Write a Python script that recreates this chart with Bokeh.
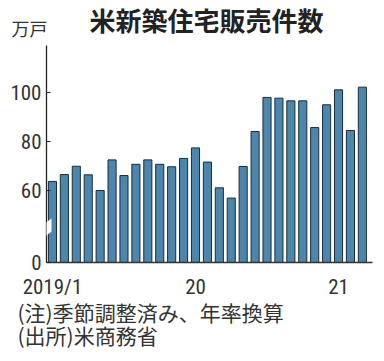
from bokeh.plotting import figure
from bokeh.models import Range1d, FixedTicker, Label, PolyAnnotation, Title
from bokeh.layouts import column
from bokeh.embed import file_html
from bokeh.resources import INLINE

months = ["2019/1","2019/2","2019/3","2019/4","2019/5","2019/6","2019/7","2019/8","2019/9",
          "2019/10","2019/11","2019/12","2020/1","2020/2","2020/3","2020/4","2020/5","2020/6",
          "2020/7","2020/8","2020/9","2020/10","2020/11","2020/12","2021/1","2021/2","2021/3"]
sales = [63.7, 66.5, 69.9, 66.4, 60.0, 72.5, 66.1, 70.7, 72.5, 70.7, 69.7, 73.1, 77.4,
         71.6, 61.1, 56.9, 69.8, 84.1, 98.0, 97.7, 96.6, 96.6, 85.7, 95.0, 101.1, 84.5, 102.2]
x_ticks = [0, 12, 24]
x_tick_labels = ["2019/1", "20", "21"]
y_ticks = [60, 80, 100]
notes = ["(注)季節調整済み、年率換算", "(出所)米商務省"]

BASE = 30.6  # display position of the broken-axis zero
NUM_FONT = "'Roboto Condensed', 'DejaVu Sans Condensed', 'Liberation Sans Narrow', Roboto, sans-serif"
JP_FONT = "Noto Sans CJK JP"
W = 384

# header
HEAD_H = 40
head = figure(width=W, height=HEAD_H, output_backend="svg", toolbar_location=None,
              x_range=Range1d(0, W), y_range=Range1d(HEAD_H, 0), title=None,
              x_axis_type=None, y_axis_type=None, frame_align=False,
              min_border=0, min_border_left=0, min_border_right=0,
              min_border_top=0, min_border_bottom=0)
head.grid.visible = False
head.outline_line_color = None
head.add_layout(Label(x=206, y=19, text="米新築住宅販売件数", text_align="center",
                      text_baseline="middle", text_font=JP_FONT, text_font_style="bold",
                      text_font_size="26px", text_color="#222222"))
head.add_layout(Label(x=11, y=27, text="万戸", text_align="left",
                      text_baseline="middle", text_font=JP_FONT,
                      text_font_size="18px", text_color="#333333"))

# main chart (notes are titles below it)
MAIN_H = 361 - HEAD_H
p = figure(width=W, height=MAIN_H, output_backend="svg", toolbar_location=None, title=None,
           x_range=Range1d(-0.5, 26.85), y_range=Range1d(BASE, 119.2), frame_align=False,
           min_border_left=46, min_border_top=5, min_border_right=12,
           min_border_bottom=MAIN_H - 5 - 217)
p.background_fill_color = "white"
p.border_fill_color = "white"
p.outline_line_color = None
p.xgrid.visible = False
p.ygrid.visible = False

idx = list(range(len(months)))
p.vbar(x=idx, top=sales, bottom=BASE, width=0.68,
       fill_color="#4d86ac", line_color="#1c2b3a", line_width=1)

yax = p.yaxis[0]
yax.ticker = FixedTicker(ticks=[BASE] + y_ticks)
yax.major_label_overrides = {BASE: "0"}
yax.axis_line_color = "#222222"
yax.axis_line_width = 1.3
yax.major_tick_in = 4
yax.major_tick_out = 0
yax.major_tick_line_color = "#222222"
yax.minor_tick_line_color = None
yax.major_label_standoff = 5
yax.major_label_text_font = NUM_FONT
yax.major_label_text_font_size = "21px"
yax.major_label_text_color = "#333333"

xax = p.xaxis[0]
xax.ticker = FixedTicker(ticks=x_ticks)
xax.major_label_overrides = {t: l for t, l in zip(x_ticks, x_tick_labels)}
xax.axis_line_color = "#333333"
xax.axis_line_width = 1.3
xax.major_tick_line_color = None
xax.minor_tick_line_color = None
xax.major_label_standoff = 6
xax.major_label_text_font = NUM_FONT
xax.major_label_text_font_size = "21px"
xax.major_label_text_color = "#333333"

brk = PolyAnnotation(xs=[-0.9, -0.08, -0.08, -0.9], ys=[45.6, 48.6, 43.3, 40.2],
                     fill_color="white", fill_alpha=1, line_color=None, level="overlay")
p.add_layout(brk)

for note, gap in zip(notes, [-14, -3]):
    p.add_layout(Title(text=note, align="left", offset=-29, standoff=gap,
                       text_font=JP_FONT, text_font_size="21px",
                       text_font_style="normal", text_color="#333333"), "below")

layout = column(head, p, spacing=0)
open("out.html", "w").write(file_html(layout, INLINE))
